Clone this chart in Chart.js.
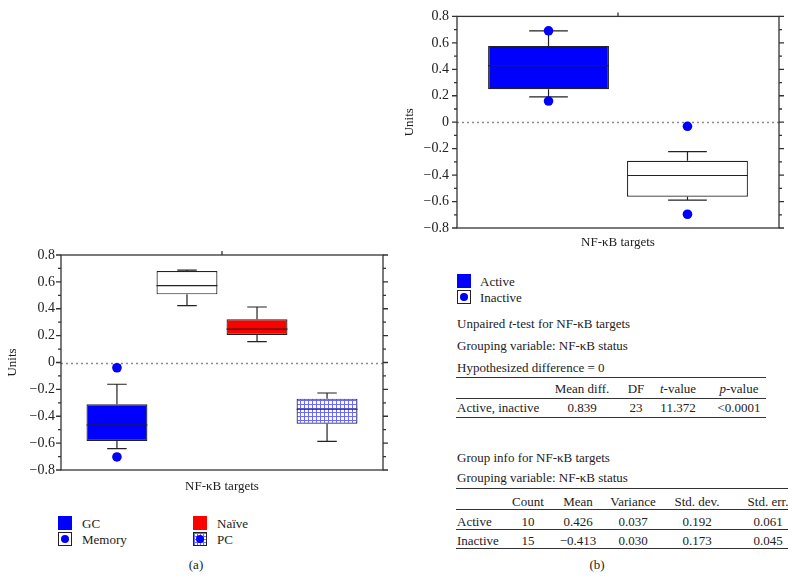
<!DOCTYPE html>
<html>
<head>
<meta charset="utf-8">
<script src="https://cdn.jsdelivr.net/npm/chart.js@4"></script>
<style>
  body { margin: 0; background: #fff; width: 797px; height: 579px; position: relative; overflow: hidden;
         font-family: "Liberation Serif", "DejaVu Serif", serif; font-size: 13px; color: #222; }
  canvas { position: absolute; }
  .t { position: absolute; white-space: nowrap; line-height: 1; transform: translateY(-50%); }
  .c { transform: translate(-50%, -50%); }
  .hl { position: absolute; height: 1px; background: #333; }
  .sw { position: absolute; width: 14px; height: 14px; box-sizing: border-box; }
  .dot { position: absolute; left: 50%; top: 50%; width: 8px; height: 8px; margin: -4px 0 0 -4px; border-radius: 50%; background: #0000ff; }
</style>
</head>
<body>
<canvas id="chartA" width="395" height="260" style="left:0;top:240px"></canvas>
<canvas id="chartB" width="407" height="260" style="left:390px;top:0"></canvas>

<!-- legend (a) -->
<div class="sw" style="left:58px;top:516px;background:#0000ff"></div>
<div class="sw" style="left:58px;top:532px;border:1.3px solid #222;background:#fff"><div class="dot"></div></div>
<div class="sw" style="left:193px;top:516px;background:#ff0000"></div>
<div class="sw" style="left:193px;top:532px;border:1.3px solid #222;background-color:#fff;
  background-image:linear-gradient(#6a6aff 1px, transparent 1px),linear-gradient(90deg,#6a6aff 1px, transparent 1px);
  background-size:3px 3px"><div class="dot"></div></div>
<span class="t" style="left:82px;top:523px">GC</span>
<span class="t" style="left:82px;top:539px">Memory</span>
<span class="t" style="left:217px;top:523px">Naïve</span>
<span class="t" style="left:217px;top:539px">PC</span>
<span class="t c" style="left:196px;top:564px">(a)</span>

<!-- legend (b) -->
<div class="sw" style="left:457px;top:274px;background:#0000ff"></div>
<div class="sw" style="left:457px;top:290px;border:1.3px solid #222;background:#fff"><div class="dot"></div></div>
<span class="t" style="left:480px;top:281px">Active</span>
<span class="t" style="left:480px;top:297px">Inactive</span>

<div id="tables"></div>
<span class="t c" style="left:597px;top:564px">(b)</span>

<script>
/* global Chart */

const targetLabel = ['NF-κB targets']

// panel (a): cell types
const cellTypes = ['GC', 'Memory', 'Naïve', 'PC']
const cellQ1 = [-0.584, 0.507, 0.205, -0.455]
const cellQ3 = [-0.311, 0.681, 0.321, -0.269]
const cellMedian = [-0.465, 0.572, 0.249, -0.348]
const cellLow = [-0.641, 0.423, 0.155, -0.587]
const cellHigh = [-0.162, 0.688, 0.413, -0.227]
const cellOutliers = [[-0.039, -0.703], [], [], []]

// panel (b): NF-kB status
const statusNames = ['Active', 'Inactive']
const statusQ1 = [0.249, -0.564]
const statusQ3 = [0.577, -0.291]
const statusMedian = [0.428, -0.403]
const statusLow = [0.192, -0.589]
const statusHigh = [0.691, -0.222]
const statusOutliers = [[0.691, 0.16], [-0.031, -0.696]]

// t-test table
const ttestHeader = ['Mean diff.', 'DF', '<i>t</i>-value', '<i>p</i>-value']
const ttestRow = ['0.839', '23', '11.372', '&lt;0.0001']

// group info table
const groupHeader = ['Count', 'Mean', 'Variance', 'Std. dev.', 'Std. err.']
const groupActive = ['10', '0.426', '0.037', '0.192', '0.061']
const groupInactive = ['15', '−0.413', '0.030', '0.173', '0.045']

const BLUE = '#0000ff'
const FONT = '"Liberation Serif", "DejaVu Serif", serif'

function gridPattern () {
  const c = document.createElement('canvas')
  c.width = 4
  c.height = 4
  const g = c.getContext('2d')
  g.fillStyle = '#fff'
  g.fillRect(0, 0, 4, 4)
  g.fillStyle = '#6a6aff'
  g.fillRect(0, 0, 4, 1)
  g.fillRect(0, 0, 1, 4)
  return g.createPattern(c, 'repeat')
}

const boxPlugin = {
  id: 'boxes',
  beforeDatasetsDraw (chart) {
    const { ctx, chartArea, scales: { y } } = chart
    const y0 = Math.round(y.getPixelForValue(0)) + 0.5
    ctx.save()
    ctx.strokeStyle = '#8a8a8a'
    ctx.lineWidth = 1.3
    ctx.setLineDash([2, 3])
    ctx.beginPath()
    ctx.moveTo(chartArea.left, y0)
    ctx.lineTo(chartArea.right, y0)
    ctx.stroke()
    ctx.restore()
  },
  afterDatasetsDraw (chart) {
    const { ctx, scales: { y } } = chart
    ctx.save()
    ctx.strokeStyle = '#222'
    ctx.lineWidth = 1.2
    chart.data.datasets.forEach((ds, i) => {
      const bar = chart.getDatasetMeta(i).data[0]
      const x = bar.x
      const half = bar.width / 2
      const cap = bar.width * 0.16
      const py = v => y.getPixelForValue(v)
      ctx.beginPath()
      ctx.moveTo(x - half, py(ds.median))
      ctx.lineTo(x + half, py(ds.median))
      ctx.moveTo(x, py(ds.data[0][1]))
      ctx.lineTo(x, py(ds.high))
      ctx.moveTo(x - cap, py(ds.high))
      ctx.lineTo(x + cap, py(ds.high))
      ctx.moveTo(x, py(ds.data[0][0]))
      ctx.lineTo(x, py(ds.low))
      ctx.moveTo(x - cap, py(ds.low))
      ctx.lineTo(x + cap, py(ds.low))
      ctx.stroke()
      ctx.fillStyle = BLUE
      ds.outliers.forEach(v => {
        ctx.beginPath()
        ctx.arc(x, py(v), 4.8, 0, Math.PI * 2)
        ctx.fill()
      })
    })
    ctx.restore()
  },
  afterDraw (chart) {
    const { ctx, chartArea: a, scales: { x, y } } = chart
    ctx.save()
    ctx.strokeStyle = '#333'
    ctx.lineWidth = 1.3
    ctx.strokeRect(a.left, a.top, a.right - a.left, a.bottom - a.top)
    ctx.beginPath()
    for (let k = -8; k <= 8; k++) {
      const yy = y.getPixelForValue(k / 10)
      const len = k % 2 === 0 ? 5 : 3
      ctx.moveTo(a.left - len, yy)
      ctx.lineTo(a.left, yy)
      ctx.moveTo(a.right, yy)
      ctx.lineTo(a.right + len, yy)
    }
    const xc = x.getPixelForValue(0)
    ctx.moveTo(xc, a.top)
    ctx.lineTo(xc, a.top - 4)
    ctx.stroke()
    ctx.restore()
  }
}

function boxDatasets (names, q1, q3, med, low, high, outliers, fills, catPct) {
  return names.map((name, i) => ({
    label: name,
    data: [[q1[i], q3[i]]],
    median: med[i],
    low: low[i],
    high: high[i],
    outliers: outliers[i],
    backgroundColor: fills[i],
    borderColor: '#222',
    borderWidth: 1.2,
    borderSkipped: false,
    categoryPercentage: catPct,
    barPercentage: 0.87
  }))
}

function makeChart (id, datasets, opt) {
  return new Chart(document.getElementById(id), {
    type: 'bar',
    data: { labels: targetLabel, datasets },
    options: {
      responsive: false,
      animation: false,
      events: [],
      layout: { padding: { top: opt.top, right: opt.right, left: 0, bottom: 0 } },
      plugins: { legend: { display: false }, tooltip: { enabled: false } },
      scales: {
        x: {
          grid: { display: false, drawTicks: false },
          border: { display: false },
          ticks: { color: '#222', padding: opt.xPad, font: { family: FONT, size: 13 } },
          afterFit: s => { s.height = opt.xHeight }
        },
        y: {
          min: -0.8,
          max: 0.8,
          grid: { display: false, drawTicks: false },
          border: { display: false },
          ticks: {
            stepSize: 0.2,
            color: '#222',
            padding: opt.yPad,
            font: { family: FONT, size: 14 },
            callback: v => Math.abs(v) < 1e-9 ? '0' : (v < 0 ? '−' : '') + Math.abs(v).toFixed(1)
          },
          title: { display: true, text: 'Units', color: '#222', padding: { top: opt.titlePad, bottom: 0 }, font: { family: FONT, size: 13 } },
          afterFit: s => { s.width = opt.yWidth }
        }
      }
    },
    plugins: [boxPlugin]
  })
}

makeChart('chartA',
  boxDatasets(cellTypes, cellQ1, cellQ3, cellMedian, cellLow, cellHigh, cellOutliers,
    [BLUE, '#ffffff', '#ff0000', gridPattern()], 0.87),
  { top: 15, right: 12, xHeight: 30, yWidth: 61, xPad: 9, yPad: 6, titlePad: 5 })

makeChart('chartB',
  boxDatasets(statusNames, statusQ1, statusQ3, statusMedian, statusLow, statusHigh, statusOutliers,
    [BLUE, '#ffffff'], 0.863),
  { top: 13, right: 18, xHeight: 32, yWidth: 67, xPad: 7, yPad: 8, titlePad: 12 })

// tables
const host = document.getElementById('tables')
function put (html, x, y, centered) {
  const s = document.createElement('span')
  s.className = centered ? 't c' : 't'
  s.style.left = x + 'px'
  s.style.top = y + 'px'
  s.innerHTML = html
  host.appendChild(s)
}
function rule (x, y, w) {
  const d = document.createElement('div')
  d.className = 'hl'
  d.style.left = x + 'px'
  d.style.top = y + 'px'
  d.style.width = w + 'px'
  host.appendChild(d)
}

put('Unpaired <i>t</i>-test for NF-κB targets', 457, 323)
put('Grouping variable: NF-κB status', 457, 345)
put('Hypothesized difference = 0', 457, 367)
rule(456, 377, 310)
const ttestCols = [582, 636, 678, 739]
ttestHeader.forEach((h, i) => put(h, ttestCols[i], 388, true))
rule(456, 398, 310)
put('Active, inactive', 457, 407)
ttestRow.forEach((v, i) => put(v, ttestCols[i], 407, true))
rule(456, 417, 310)

put('Group info for NF-κB targets', 457, 457)
put('Grouping variable: NF-κB status', 457, 477)
rule(456, 488, 332)
const groupCols = [528, 578, 633, 697, 768]
groupHeader.forEach((h, i) => put(h, groupCols[i], 501, true))
rule(456, 509, 332)
put('Active', 457, 521)
groupActive.forEach((v, i) => put(v, groupCols[i], 521, true))
rule(456, 529, 332)
put('Inactive', 457, 540)
groupInactive.forEach((v, i) => put(v, groupCols[i], 540, true))
rule(456, 548, 332)
</script>
</body>
</html>
